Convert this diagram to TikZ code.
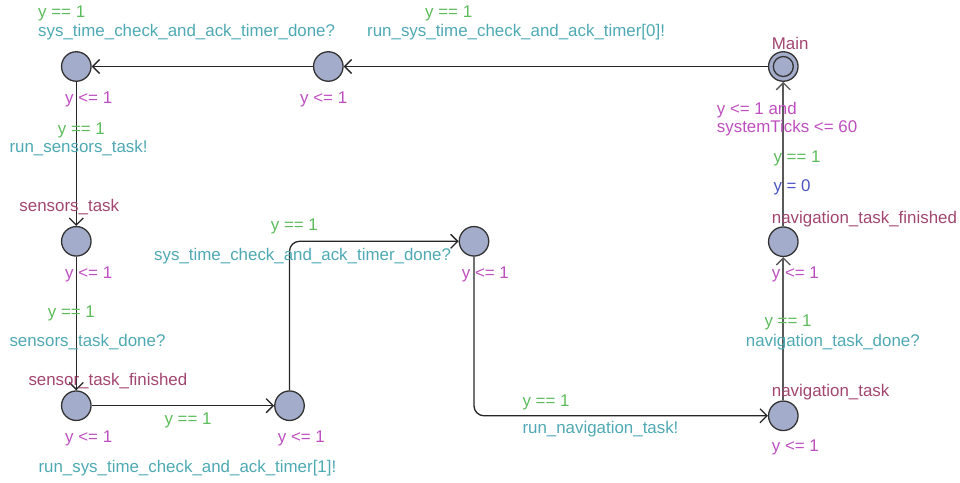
\documentclass[tikz,border=0pt]{standalone}
\usepackage{fontspec}
\setmainfont{Liberation Sans}
\usetikzlibrary{arrows.meta}
\definecolor{guardc}{HTML}{5CBC5C}
\definecolor{syncc}{HTML}{4EA9B3}
\definecolor{namec}{HTML}{A2466F}
\definecolor{invc}{HTML}{BE4FC0}
\definecolor{updc}{HTML}{4A55C2}
\definecolor{locfill}{HTML}{A4ACCB}
\definecolor{locdraw}{HTML}{333333}
\tikzset{
  x=1pt, y=-1pt,
  loc/.style={circle, fill=locfill, draw=locdraw, line width=1.3pt, minimum size=29.5pt, inner sep=0pt},
  lbl/.style={anchor=base west, inner sep=0pt, font=\fontsize{16.9}{18}\selectfont},
  guard/.style={lbl, text=guardc},
  sync/.style={lbl, text=syncc},
  lname/.style={lbl, text=namec},
  inv/.style={lbl, text=invc},
  upd/.style={lbl, text=updc},
  edge/.style={draw=black!85, line width=1.3pt, -{Straight Barb[length=7pt,width=14pt,line width=1.3pt]}},
  edgeR/.style={edge, draw=black!65, line width=2pt}
}
\begin{document}
\begin{tikzpicture}
\useasboundingbox (0,0) rectangle (960,482);
% locations
\node[loc] (main) at (783.3,66.5) {};
\draw[locdraw, line width=1.3pt] (main.center) circle (10pt);
\node[loc] (t1) at (328.3,66.5) {};
\node[loc] (t2) at (76.3,66.5) {};
\node[loc] (sens) at (76.3,241.3) {};
\node[loc] (sfin) at (76.3,405.7) {};
\node[loc] (b1) at (289.5,405.7) {};
\node[loc] (c1) at (474,241.3) {};
\node[loc] (nav) at (783.3,415.8) {};
\node[loc] (nfin) at (783.3,241.7) {};
\coordinate (bc) at (289.5,241.3);
\coordinate (cn) at (474,415.8);
% transitions
\draw[edge] (main) -- (t1);
\draw[edge] (t1) -- (t2);
\draw[edge] (t2) -- (sens);
\draw[edge] (sens) -- (sfin);
\draw[edge] (sfin) -- (b1);
\draw[edge, rounded corners=10pt] (b1) -- (bc) -- (c1);
\draw[edge, rounded corners=10pt] (c1) -- (cn) -- (nav);
\draw[edgeR] (nav) -- (nfin);
\draw[edgeR] (nfin) -- (main);
% location names
\node[lname] (nmain) at (771.7,49.3) {Main};
\node[lname] (nsens) at (19.3,211) {sensors\_task};
\node[lname] (nsfin) at (28.3,385) {sensor\_task\_finished};
\node[lname] (nnav) at (771.7,396.7) {navigation\_task};
\node[lname] (nnfin) at (771.7,223.3) {navigation\_task\_finished};
% invariants
\node[inv] (i1) at (65,103.3) {y <= 1};
\node[inv] (i2) at (300,103.3) {y <= 1};
\node[inv] (i3) at (65,278.3) {y <= 1};
\node[inv] (i4) at (65,442.3) {y <= 1};
\node[inv] (i5) at (277.7,442.3) {y <= 1};
\node[inv] (i6) at (461.7,278.3) {y <= 1};
\node[inv] (i7) at (771.7,278.3) {y <= 1};
\node[inv] (i8) at (771.7,451.7) {y <= 1};
\node[inv] (i9) at (716.7,114.3) {y <= 1 and};
\node[inv] (i10) at (716.7,132.7) {systemTicks <= 60};
% guards
\node[guard] (g1) at (38,17.5) {y == 1};
\node[guard] (g2) at (425,17.5) {y == 1};
\node[guard] (g3) at (57.7,134.3) {y == 1};
\node[guard] (g4) at (47.7,317.3) {y == 1};
\node[guard] (g5) at (164.3,424.3) {y == 1};
\node[guard] (g6) at (270.7,230.7) {y == 1};
\node[guard] (g7) at (522.3,406.7) {y == 1};
\node[guard] (g8) at (764.3,326.7) {y == 1};
\node[guard] (g9) at (773.3,162.7) {y == 1};
% synchronisations
\node[sync] (s1) at (38,36) {sys\_time\_check\_and\_ack\_timer\_done?};
\node[sync] (s2) at (367,36) {run\_sys\_time\_check\_and\_ack\_timer[0]!};
\node[sync] (s3) at (9.3,152.3) {run\_sensors\_task!};
\node[sync] (s4) at (9.3,346) {sensors\_task\_done?};
\node[sync] (s5) at (38.3,472.3) {run\_sys\_time\_check\_and\_ack\_timer[1]!};
\node[sync] (s6) at (154,260) {sys\_time\_check\_and\_ack\_timer\_done?};
\node[sync] (s7) at (522.3,433.3) {run\_navigation\_task!};
\node[sync] (s8) at (745.7,346.7) {navigation\_task\_done?};
% update
\node[upd] (u1) at (773.3,191) {y = 0};
\end{tikzpicture}
\end{document}
